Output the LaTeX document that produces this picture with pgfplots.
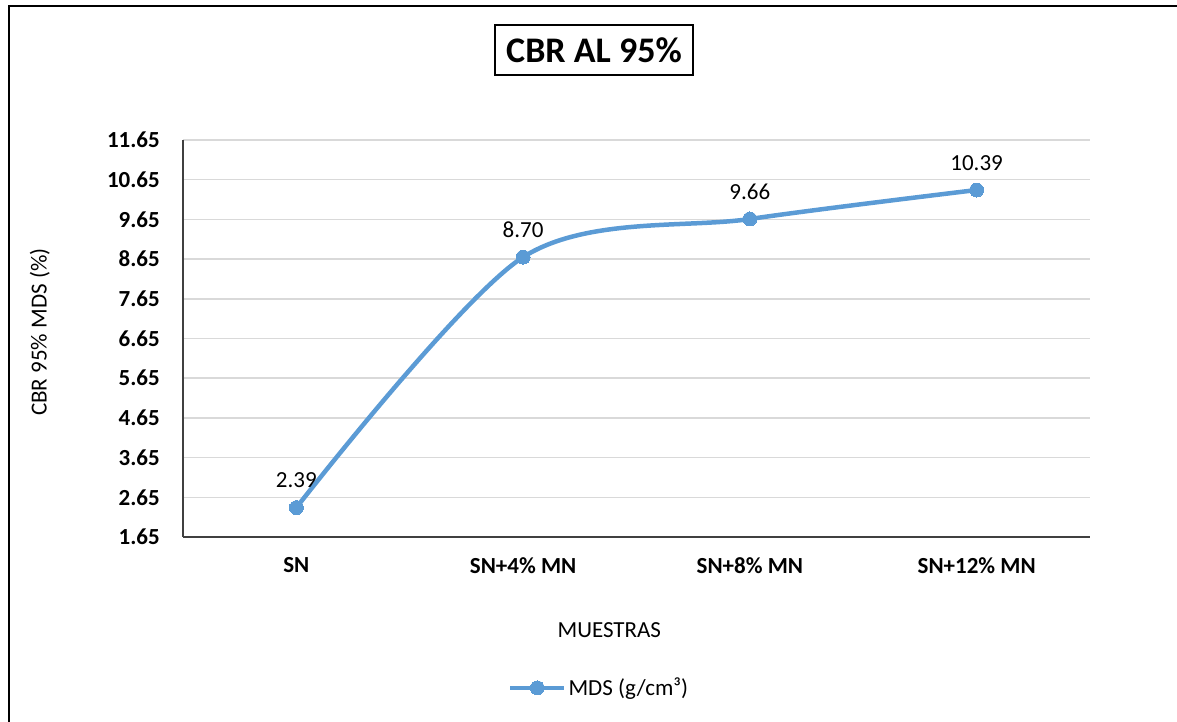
\documentclass[border=0pt]{standalone}
\usepackage{pgfplots}
\pgfplotsset{compat=1.18}
\usepackage{fontspec}
\setmainfont{Carlito}
\definecolor{exblue}{HTML}{5B9BD5}
\definecolor{gridgray}{HTML}{D9D9D9}
\begin{document}
\fontsize{23}{27}\selectfont
\begin{tikzpicture}
\path[use as bounding box] (0pt,0pt) rectangle (1177pt,722pt);
\draw[line width=2.2pt] (9pt,-2pt) -- (9pt,716pt) -- (1179pt,716pt);
\node[draw, line width=1.6pt, minimum width=198pt, minimum height=50pt, inner sep=0pt,
      font=\bfseries\fontsize{36}{40}\selectfont] at (594pt,672pt) {CBR AL 95\%};
\begin{axis}[
  at={(183pt,185pt)}, anchor=south west,
  scale only axis, width=907pt, height=397pt,
  xmin=-0.5, xmax=3.5, ymin=1.65, ymax=11.65,
  axis x line*=bottom, axis y line*=left,
  axis line style={black!75, line width=1.3pt},
  xtick={0,1,2,3},
  xticklabels={SN, SN+4\% MN, SN+8\% MN, SN+12\% MN},
  ytick={1.65,2.65,3.65,4.65,5.65,6.65,7.65,8.65,9.65,10.65,11.65},
  /pgf/number format/fixed,
  /pgf/number format/fixed zerofill,
  /pgf/number format/precision=2,
  /pgf/number format/assume math mode=true,
  major tick length=0pt,
  ticklabel style={font=\bfseries\fontsize{23}{27}\selectfont, text=black},
  yticklabel style={inner sep=0pt, xshift=-23pt},
  xticklabel style={inner sep=0pt, yshift=-20pt},
  ymajorgrids, major grid style={gridgray, line width=1.5pt},
  xlabel={MUESTRAS},
  ylabel={CBR 95\% MDS (\%)},
  xlabel style={at={(axis description cs:0.470,-0.234)}, anchor=center, font=\fontsize{23}{27}\selectfont},
  ylabel style={at={(axis description cs:-0.158,0.516)}, anchor=center, rotate=0, font=\fontsize{23}{27}\selectfont},
  legend style={at={(axis description cs:0.4587,-0.380)}, anchor=center, draw=none, fill=none,
     font=\fontsize{23}{27}\selectfont, inner sep=0pt},
  legend image code/.code={\draw[mark repeat=2,mark phase=2] plot coordinates {(0pt,0pt)(27pt,0pt)(54pt,0pt)};},
  clip=false,
  nodes near coords,
  point meta=explicit symbolic,
  every node near coord/.append style={font=\fontsize{23}{27}\selectfont, text=black, anchor=south, yshift=12pt},
]
\addplot[exblue, line width=4.5pt, smooth, tension=0.5, mark=*, mark size=7pt,
  mark options={fill=exblue, draw=exblue, line width=0pt}]
  coordinates {(0,2.39)[2.39] (1,8.70)[8.70] (2,9.66)[9.66] (3,10.39)[10.39]};
\addlegendentry{MDS (g/cm³)}
\end{axis}
\end{tikzpicture}
\end{document}
